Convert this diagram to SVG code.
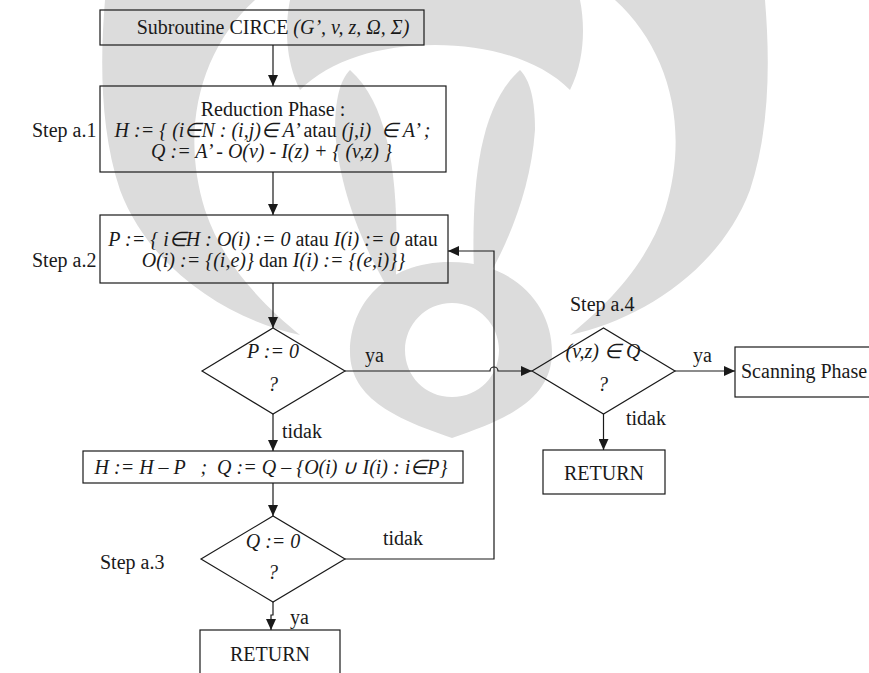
<svg xmlns="http://www.w3.org/2000/svg" width="869" height="673" viewBox="0 0 869 673">
  <style>
    .wm { fill: #dcdcdc; stroke: none; }
    .box { fill: none; stroke: #1a1a1a; stroke-width: 1.2; }
    .edge { fill: none; stroke: #1a1a1a; stroke-width: 1.2; }
    text { font-family: "Liberation Serif", "Times New Roman", serif; font-size: 20px; fill: #1a1a1a; }
    .c { text-anchor: middle; }
    .i { font-style: italic; }
  </style>
  <defs>
    <marker id="arrow" markerUnits="userSpaceOnUse" markerWidth="12" markerHeight="10" refX="11" refY="5" orient="auto">
      <path d="M0,0 L11,5 L0,10 Z" fill="#1a1a1a"/>
    </marker>
    <g id="wm-half">
      <!-- outer horn -->
      <path d="M105,0 L255,0 C200,50 180,130 205,210 C225,270 270,310 300,335 C230,320 150,270 120,190 C100,130 100,60 105,0 Z"/>
      <!-- upper arch -->
      <path d="M290,0 L435,0 L435,45 C380,45 330,60 300,90 C285,60 285,25 290,0 Z"/>
      <!-- side stalk -->
      <path d="M350,70 C395,110 400,200 395,300 C370,260 340,200 335,130 C335,100 340,80 350,70 Z"/>
    </g>
  </defs>

  <!-- background emblem -->
  <g id="emblem" class="wm">
    <use href="#wm-half"/>
    <use href="#wm-half" transform="translate(870,0) scale(-1,1)"/>
    <path d="M450,262 C515,262 552,305 552,352 C552,400 505,420 452,438 C400,420 350,400 350,352 C350,305 385,262 450,262 Z M452,303 C425,303 405,325 405,350 C405,376 425,397 452,397 C479,397 499,376 499,350 C499,325 479,303 452,303 Z" fill-rule="evenodd"/>
  </g>

  <!-- connectors -->
  <g id="connectors">
    <path class="edge" d="M273,45 V86" marker-end="url(#arrow)"/>
    <path class="edge" d="M273,172 V215" marker-end="url(#arrow)"/>
    <path class="edge" d="M273,283 V328" marker-end="url(#arrow)"/>
    <path class="edge" d="M345,371 H490 A4,4 0 0 1 498,371 H532" marker-end="url(#arrow)"/>
    <path class="edge" d="M675,371 H735" marker-end="url(#arrow)"/>
    <path class="edge" d="M603.5,414 V450" marker-end="url(#arrow)"/>
    <path class="edge" d="M273,414 V451" marker-end="url(#arrow)"/>
    <path class="edge" d="M273,483 V516" marker-end="url(#arrow)"/>
    <path class="edge" d="M345,559 H494 V251 H448" marker-end="url(#arrow)"/>
    <path class="edge" d="M273,602 V615 H271 V630" marker-end="url(#arrow)"/>
    <text x="365" y="362">ya</text>
    <text x="693" y="362">ya</text>
    <text x="626" y="425">tidak</text>
    <text x="282" y="438">tidak</text>
    <text x="383" y="545">tidak</text>
    <text x="290" y="624">ya</text>
  </g>

  <!-- step labels -->
  <g id="steps">
    <text x="32" y="137">Step a.1</text>
    <text x="32" y="267">Step a.2</text>
    <text x="100" y="569">Step a.3</text>
    <text x="570" y="311">Step a.4</text>
  </g>

  <g id="start">
    <rect class="box" x="100" y="10" width="324" height="35"/>
    <text class="c" x="273" y="34">Subroutine CIRCE <tspan class="i">(G’, v, z, Ω, Σ)</tspan></text>
  </g>

  <g id="reduction">
    <rect class="box" x="100" y="86" width="346" height="86"/>
    <text class="c" x="273" y="116">Reduction Phase :</text>
    <text class="c" x="272.5" y="137" xml:space="preserve"><tspan class="i">H := { (i∈N : (i,j)∈ A’ </tspan>atau<tspan class="i"> (j,i)  ∈ A’ ;</tspan></text>
    <text class="c i" x="271.5" y="158">Q := A’ - O(v) - I(z) + { (v,z) }</text>
  </g>

  <g id="setP">
    <rect class="box" x="100" y="215" width="348" height="68"/>
    <text class="c" x="273" y="246"><tspan class="i">P := { i∈H : O(i) := 0 </tspan>atau <tspan class="i">I(i) := 0 </tspan>atau</text>
    <text class="c" x="273.5" y="267"><tspan class="i">O(i) := {(i,e)} </tspan>dan <tspan class="i">I(i) := {(e,i)}}</tspan></text>
  </g>

  <g id="testP">
    <path class="box" d="M202,371 L273,328 L345,371 L273,414 Z"/>
    <text class="c i" x="273" y="358">P := 0</text>
    <text class="c i" x="273" y="391">?</text>
  </g>

  <g id="update">
    <rect class="box" x="83" y="451" width="380" height="32"/>
    <text class="c i" x="271" y="474" xml:space="preserve">H := H – P   ;  Q := Q – {O(i) ∪ I(i) : i∈P}</text>
  </g>

  <g id="testQ">
    <path class="box" d="M201,559 L273,516 L345,559 L273,602 Z"/>
    <text class="c i" x="273" y="548">Q := 0</text>
    <text class="c i" x="273" y="579">?</text>
  </g>

  <g id="return1">
    <rect class="box" x="200" y="630" width="140" height="48"/>
    <text class="c" x="270" y="661">RETURN</text>
  </g>

  <g id="testVZ">
    <path class="box" d="M532,371 L603.5,328 L675,371 L603.5,414 Z"/>
    <text class="c i" x="603" y="358">(v,z) ∈ Q</text>
    <text class="c i" x="603" y="391">?</text>
  </g>

  <g id="return2">
    <rect class="box" x="543" y="450" width="122" height="44"/>
    <text class="c" x="604" y="480">RETURN</text>
  </g>

  <g id="scanning">
    <rect class="box" x="735" y="347" width="145" height="50"/>
    <text x="741" y="378">Scanning Phase</text>
  </g>
</svg>
